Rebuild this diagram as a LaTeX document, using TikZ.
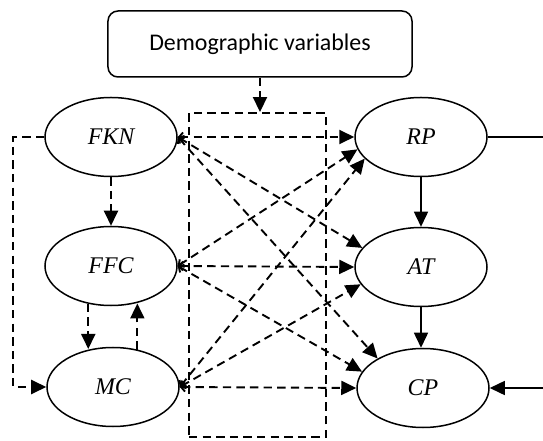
\documentclass[tikz,border=0pt]{standalone}
\usepackage{fontspec}
\setmainfont{Liberation Serif}
\newfontfamily\calibri{Carlito}
\usetikzlibrary{arrows.meta, calc, shapes.geometric}

\begin{document}
\begin{tikzpicture}[x=0.5bp, y=-0.5bp, line width=0.75bp,
  arro/.style = {-{Triangle[length=7.5bp, width=7bp]}},
  dsh/.style = {dash pattern=on 4.2bp off 2.6bp, line width=0.95bp}]

\tikzstyle{latent} = [draw, ellipse, minimum width=66bp, minimum height=39.5bp, inner sep=0pt, font=\fontsize{12}{14}\selectfont\itshape]
\tikzstyle{header} = [draw, rounded corners=5bp, minimum width=152bp, minimum height=33bp, font=\calibri\fontsize{12}{14}\selectfont]
\tikzstyle{link} = [dsh, {Straight Barb[length=2bp, width=4.5bp]}-{Triangle[length=7.5bp, width=7bp]}]

\useasboundingbox (0,0) rectangle (543,441);

% moderator
\node[header] at (260,44) (demo) {Demographic variables};
\node[draw, dsh, minimum width=68.5bp, minimum height=162bp, inner sep=0pt] at (257.5,275) (zone) {};
\draw[arro, dsh] (demo.south) -- (demo.south |- zone.north);
% left side
\node[latent] at (111,137) (fkn) {FKN};
\node[latent] at (111,266) (ffc) {FFC};
\node[latent] at (113,387) (mc) {MC};
% right side
\node[latent] at (421,137) (rp) {RP};
\node[latent] at (421,267) (at) {AT};
\node[latent] at (423,388) (cp) {CP};
% free ends
\coordinate (rpout) at (543,137);
\coordinate (cpin) at (543,388);

% left connections
\draw[arro, dsh] (fkn.south) -- (ffc.north);
\draw[arro, dsh] (ffc.239) -- (ffc.239 |- mc.120);
\draw[arro, dsh] (mc.57) -- (mc.57 |- ffc.303);
\draw[arro, dsh] (fkn.west) -- ++(-31,0) |- (mc.west);

% right connections
\draw[arro] (rp.south) -- (at.north);
\draw[arro] (at.south) -- (at.south |- cp.north);
\draw (rp.east) -- (rpout);
\draw[arro] (cpin) -- (cp.east);

% cross connections
\draw[link] (fkn.east) -- (rp.west);
\draw[link] (fkn.east) -- (at.162);
\draw[link] (fkn.east) -- (cp.147);
\draw[link] (ffc.east) -- (rp.191);
\draw[link] (ffc.east) -- (at.west);
\draw[link] (ffc.east) -- (cp.165);
\draw[link] (mc.east) -- (rp.201);
\draw[link] (mc.east) -- (at.196);
\draw[link] (mc.east) -- (cp.west);
\end{tikzpicture}
\end{document}
